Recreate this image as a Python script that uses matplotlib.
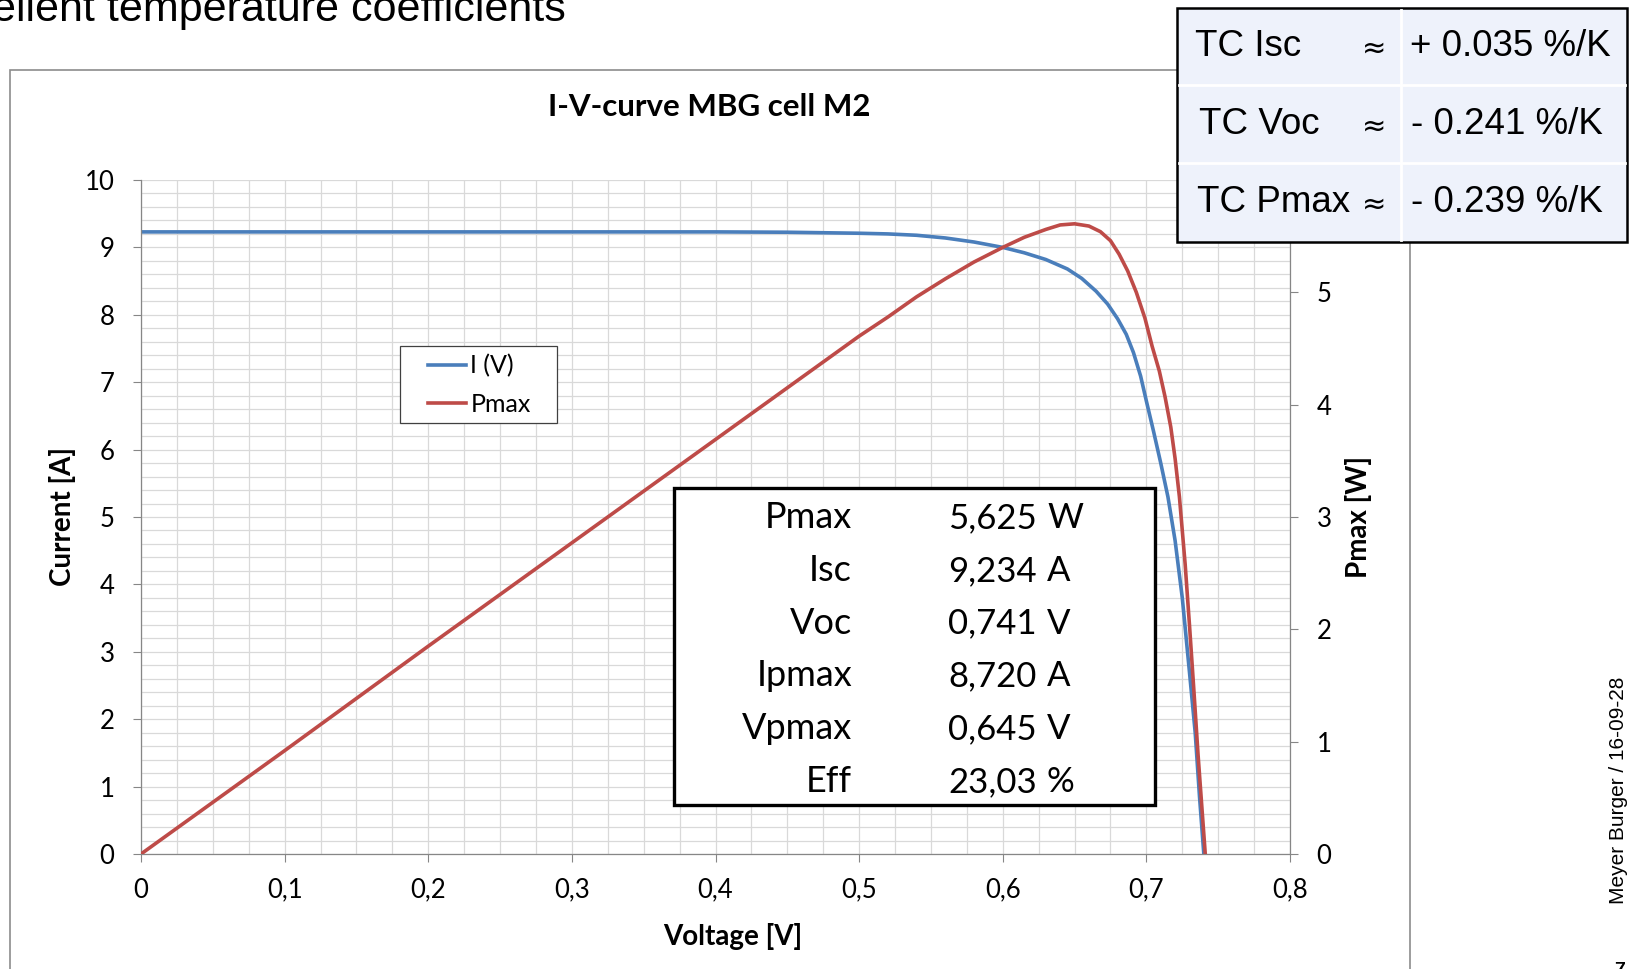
import matplotlib
matplotlib.use('Agg')
import matplotlib.pyplot as plt
from matplotlib.patches import Rectangle
from matplotlib.lines import Line2D
from matplotlib.ticker import MultipleLocator

# I-V curve (left axis)
voltage = [0.0, 0.1, 0.2, 0.3, 0.4, 0.45, 0.5, 0.52, 0.54, 0.56, 0.58, 0.6, 0.615, 0.63,
           0.645, 0.655, 0.665, 0.673, 0.68, 0.686, 0.691, 0.696, 0.70, 0.705, 0.71,
           0.715, 0.72, 0.725, 0.73, 0.734, 0.737, 0.740]
current = [9.23, 9.23, 9.23, 9.23, 9.23, 9.225, 9.21, 9.20, 9.18, 9.14, 9.08, 9.00, 8.92, 8.82,
           8.68, 8.54, 8.35, 8.16, 7.94, 7.71, 7.44, 7.09, 6.72, 6.27, 5.80,
           5.30, 4.65, 3.80, 2.70, 1.80, 0.85, 0.0]

# power curve (right axis)
p_voltage = [0.0, 0.1, 0.2, 0.3, 0.4, 0.5, 0.52, 0.54, 0.56, 0.58, 0.6, 0.615, 0.63, 0.64,
             0.65, 0.66, 0.668, 0.675, 0.681, 0.687, 0.693, 0.699, 0.704, 0.709, 0.713,
             0.717, 0.72, 0.723, 0.727, 0.73, 0.733, 0.736, 0.741]
power = [0.0, 0.92, 1.85, 2.77, 3.69, 4.61, 4.78, 4.96, 5.12, 5.27, 5.40, 5.49, 5.56, 5.60,
         5.61, 5.59, 5.54, 5.46, 5.34, 5.19, 5.00, 4.77, 4.52, 4.30, 4.07,
         3.80, 3.52, 3.18, 2.58, 2.04, 1.47, 0.88, 0.0]

x_ticks = [0, 0.1, 0.2, 0.3, 0.4, 0.5, 0.6, 0.7, 0.8]
x_tick_labels = ['0', '0,1', '0,2', '0,3', '0,4', '0,5', '0,6', '0,7', '0,8']
y_ticks = [0, 1, 2, 3, 4, 5, 6, 7, 8, 9, 10]
p_ticks = [0, 1, 2, 3, 4, 5]

param_names = ['Pmax', 'Isc', 'Voc', 'Ipmax', 'Vpmax', 'Eff']
param_values = ['5,625', '9,234', '0,741', '8,720', '0,645', '23,03']
param_units = ['W', 'A', 'V', 'A', 'V', '%']

tc_names = ['TC Isc', 'TC Voc', 'TC Pmax']
tc_values = ['+ 0.035 %/K', '- 0.241 %/K', '- 0.239 %/K']

W, H = 1629, 969
blue = '#4A7EBB'
red = '#BE4B48'
grid_c = '#D9D9D9'
axis_c = '#868686'
xl_font = 'Lato'
slide_font = 'Liberation Sans'


def px(x, y):
    return x / W, 1 - y / H


fig = plt.figure(figsize=(W / 100, H / 100), dpi=100)

# chart frame
fig.patches.append(Rectangle(px(10, 1000), 1400 / W, 930 / H, transform=fig.transFigure,
                             fill=False, edgecolor='#8C8C8C', lw=1.2, zorder=0))

x0, y0 = px(141, 854)
x1, y1 = px(1290, 180)
ax = fig.add_axes([x0, y0, x1 - x0, y1 - y0])
ax2 = ax.twinx()

ax.set_xlim(0, 0.8)
ax.set_ylim(0, 10)
ax2.set_ylim(0, 6)

ax.xaxis.set_minor_locator(MultipleLocator(0.025))
ax.yaxis.set_minor_locator(MultipleLocator(0.2))
ax.grid(True, which='both', color=grid_c, lw=0.9)
ax.set_axisbelow(True)

ax.set_xticks(x_ticks)
ax.set_xticklabels(x_tick_labels)
ax.set_yticks(y_ticks)
ax2.set_yticks(p_ticks)

for a in (ax, ax2):
    for s in a.spines.values():
        s.set_visible(False)
    a.tick_params(which='minor', length=0)
    a.tick_params(which='major', length=6, width=0.8, color=axis_c,
                  labelsize=18.5, pad=8)
    for lab in a.get_xticklabels() + a.get_yticklabels():
        lab.set_family(xl_font)
ax.spines['left'].set_visible(True)
ax.spines['bottom'].set_visible(True)
ax2.spines['right'].set_visible(True)
for s in (ax.spines['left'], ax.spines['bottom'], ax2.spines['right']):
    s.set_color(axis_c)
    s.set_linewidth(0.9)
ax.tick_params(axis='x', pad=11)
ax.tick_params(axis='y', pad=13)
ax2.tick_params(axis='y', pad=13)

ax.plot(voltage, current, color=blue, lw=2.6, solid_capstyle='round')
ax2.plot(p_voltage, power, color=red, lw=2.6, solid_capstyle='round')

ax.set_xlabel('Voltage [V]', family=xl_font, fontsize=20, fontweight='bold', labelpad=15)
ax.xaxis.label.set_x(0.515)
ax.set_ylabel('Current [A]', family=xl_font, fontsize=20, fontweight='bold', labelpad=6)
ax2.set_ylabel('Pmax [W]', family=xl_font, fontsize=20, fontweight='bold', labelpad=10)

fig.text(*px(709, 107), 'I-V-curve MBG cell M2', family=xl_font, fontsize=22.5,
         fontweight='bold', ha='center', va='center')

# legend: box drawn separately, entries placed inside
fig.patches.append(Rectangle(px(400, 423), 157 / W, 77 / H, transform=fig.transFigure,
                             facecolor='white', edgecolor='#404040', lw=0.9, zorder=1))
handles = [Line2D([], [], color=blue, lw=2.6), Line2D([], [], color=red, lw=2.6)]
leg = fig.legend(handles, ['I (V)', 'Pmax'], loc='upper left', bbox_to_anchor=px(428, 354),
                 prop={'family': xl_font, 'size': 18}, frameon=False,
                 borderaxespad=0, borderpad=0, handlelength=1.5, handletextpad=0.2,
                 labelspacing=0.62)
leg.set_zorder(2)

# parameter box
bx0, by0 = px(674, 805)
fig.patches.append(Rectangle((bx0, by0), (1155 - 674) / W, (805 - 488) / H,
                             transform=fig.transFigure, facecolor='white',
                             edgecolor='black', lw=2.4, zorder=2))
for i in range(len(param_names)):
    yb = 528 + i * 52.8
    fig.text(*px(852, yb), param_names[i], family=xl_font, fontsize=26,
             ha='right', va='baseline', zorder=3)
    fig.text(*px(948, yb), param_values[i], family=xl_font, fontsize=25,
             ha='left', va='baseline', zorder=3)
    fig.text(*px(1047, yb), param_units[i], family=xl_font, fontsize=25,
             ha='left', va='baseline', zorder=3)

# temperature coefficient table
tx0, ty0 = px(1177, 242)
fig.patches.append(Rectangle((tx0, ty0), (1627 - 1177) / W, (242 - 8) / H,
                             transform=fig.transFigure, facecolor='#EEF2FB',
                             edgecolor='black', lw=1.8, zorder=4))
fig.lines.append(Line2D([1401 / W, 1401 / W], [1 - 10 / H, 1 - 240 / H],
                        transform=fig.transFigure, color='white', lw=2, zorder=5))
for yy in (85, 163):
    fig.lines.append(Line2D([1179 / W, 1625 / W], [1 - yy / H, 1 - yy / H],
                            transform=fig.transFigure, color='white', lw=2, zorder=5))
tc_name_x = [1195, 1199, 1197]
tc_val_x = [1410, 1411, 1411]
for i in range(len(tc_names)):
    yc = 47 + i * 78
    fig.text(*px(tc_name_x[i], yc), tc_names[i], family=slide_font, fontsize=26.5,
             ha='left', va='center', zorder=6)
    fig.text(*px(1374, yc + 2), '\u2248', family='DejaVu Sans', fontsize=21,
             ha='center', va='center', zorder=6)
    fig.text(*px(tc_val_x[i], yc), tc_values[i], family=slide_font, fontsize=26.5,
             ha='left', va='center', zorder=6)

# slide leftovers
fig.text(*px(-8, 21), 'elient temperature coefficients', family=slide_font,
         fontsize=31, ha='left', va='baseline')
fig.text(*px(1619, 790), 'Meyer Burger / 16-09-28', family=slide_font, fontsize=15,
         rotation=90, ha='center', va='center')
fig.text(*px(1620, 975), '7', family=slide_font, fontsize=14, fontweight='bold',
         ha='center', va='baseline')

fig.savefig('out.png', dpi=100)
